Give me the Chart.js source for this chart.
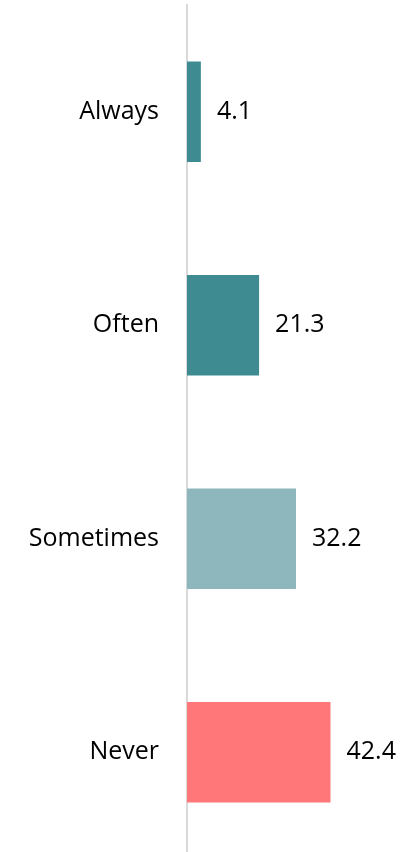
<!DOCTYPE html>
<html>
<head>
<meta charset="utf-8">
<script src="https://cdn.jsdelivr.net/npm/chart.js@4/dist/chart.umd.min.js"></script>
<style>
  html, body { margin: 0; padding: 0; background: #fff; overflow: hidden; }
  #wrap { width: 407px; height: 859px; position: relative; }
</style>
</head>
<body>
<div id="wrap"><canvas id="chart"></canvas></div>
<script>
const categories = ['Always', 'Often', 'Sometimes', 'Never'];
const values = [4.1, 21.3, 32.2, 42.4];
const barColors = ['#3E8C91', '#3E8C91', '#8DB7BC', '#FF7779'];

const FONT = "'Open Sans', sans-serif";

// value labels to the right of each bar
const valueLabels = {
  id: 'valueLabels',
  afterDatasetsDraw(chart) {
    const { ctx } = chart;
    const meta = chart.getDatasetMeta(0);
    ctx.save();
    ctx.font = '25px ' + FONT;
    ctx.fillStyle = '#000';
    ctx.textAlign = 'left';
    ctx.textBaseline = 'middle';
    meta.data.forEach((bar, i) => {
      ctx.fillText(values[i].toFixed(1), bar.x + 16, bar.y);
    });
    ctx.restore();
  }
};

new Chart(document.getElementById('chart'), {
  type: 'bar',
  data: {
    labels: categories,
    datasets: [{
      data: values,
      backgroundColor: barColors,
      borderWidth: 0,
      categoryPercentage: 1,
      barPercentage: 0.47
    }]
  },
  options: {
    indexAxis: 'y',
    responsive: true,
    maintainAspectRatio: false,
    animation: false,
    layout: { padding: { top: 5, right: 0, bottom: 0, left: 0 } },
    plugins: {
      legend: { display: false },
      tooltip: { enabled: false }
    },
    scales: {
      x: {
        display: false,
        min: 0,
        max: 65
      },
      y: {
        afterFit(scale) {
          scale.width = 187;
          scale.paddingTop = 0;
          scale.paddingBottom = 0;
        },
        grid: { display: false, drawTicks: false },
        border: { color: '#D9D9D9', width: 2 },
        ticks: {
          color: '#000',
          padding: 28,
          font: { family: FONT, size: 25 }
        }
      }
    }
  },
  plugins: [valueLabels]
});
</script>
</body>
</html>
